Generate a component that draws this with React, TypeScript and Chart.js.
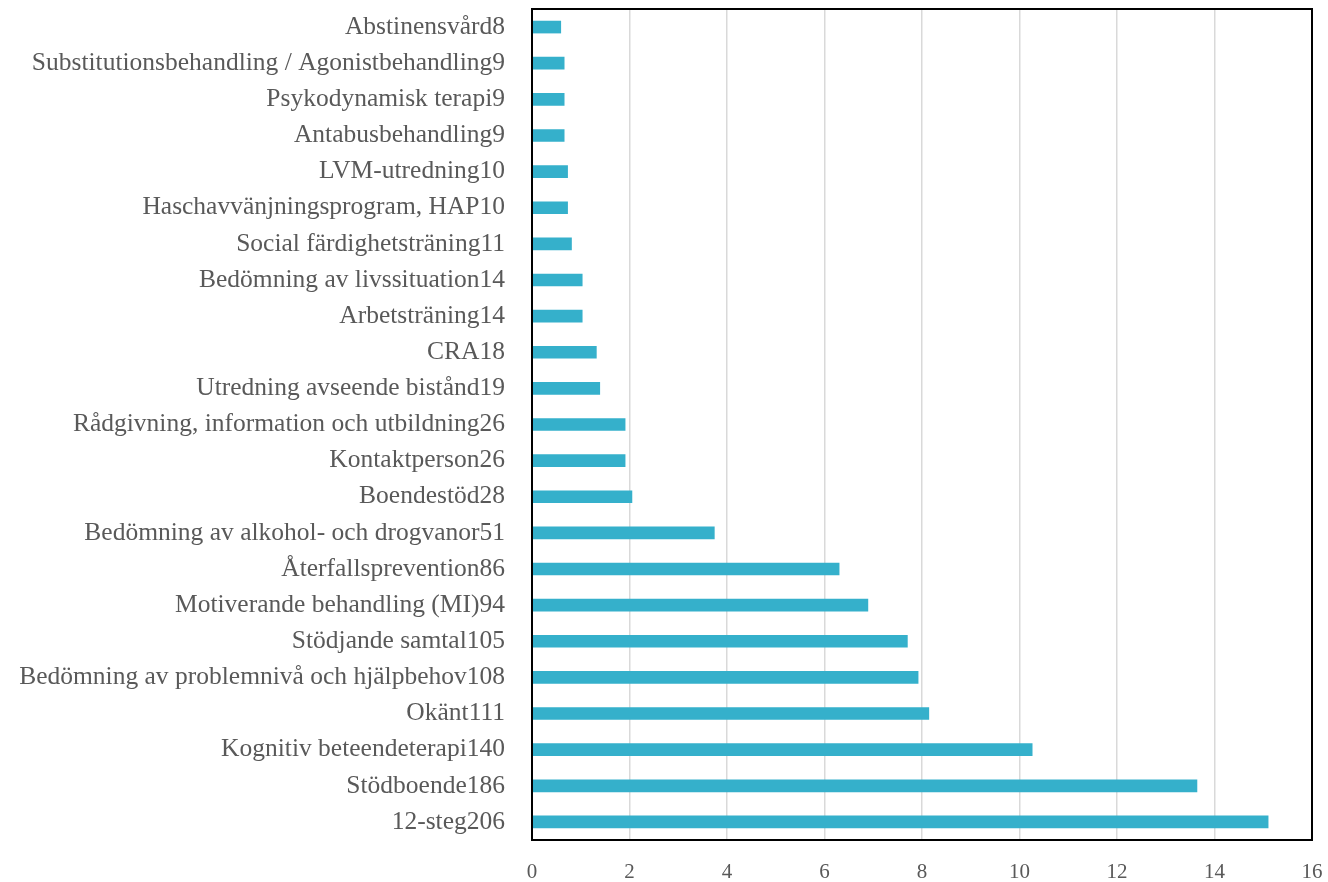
import React, { useEffect, useRef } from "react";
import { Chart, registerables } from "chart.js";

Chart.register(...registerables);

// Treatment categories (name + number of responses), top to bottom in the plot
const categories = [
  "Abstinensvård8",
  "Substitutionsbehandling / Agonistbehandling9",
  "Psykodynamisk terapi9",
  "Antabusbehandling9",
  "LVM-utredning10",
  "Haschavvänjningsprogram, HAP10",
  "Social färdighetsträning11",
  "Bedömning av livssituation14",
  "Arbetsträning14",
  "CRA18",
  "Utredning avseende bistånd19",
  "Rådgivning, information och utbildning26",
  "Kontaktperson26",
  "Boendestöd28",
  "Bedömning av alkohol- och drogvanor51",
  "Återfallsprevention86",
  "Motiverande behandling (MI)94",
  "Stödjande samtal105",
  "Bedömning av problemnivå och hjälpbehov108",
  "Okänt111",
  "Kognitiv beteendeterapi140",
  "Stödboende186",
  "12-steg206",
];

// Share of responses (%)
const shares = [
  0.59, 0.66, 0.66, 0.66, 0.73, 0.73, 0.81, 1.03, 1.03, 1.32, 1.39, 1.91, 1.91,
  2.05, 3.74, 6.3, 6.89, 7.7, 7.92, 8.14, 10.26, 13.64, 15.1,
];

const xTicks = [0, 2, 4, 6, 8, 10, 12, 14, 16];

const FONT = "'Liberation Serif', 'DejaVu Serif', serif";

// Black frame around the plotting area
const frame = {
  id: "frame",
  afterDraw(chart: Chart) {
    const { ctx, chartArea } = chart;
    ctx.save();
    ctx.strokeStyle = "#000000";
    ctx.lineWidth = 2;
    ctx.strokeRect(
      chartArea.left,
      chartArea.top,
      chartArea.right - chartArea.left,
      chartArea.bottom - chartArea.top
    );
    ctx.restore();
  },
};

export default function App() {
  const ref = useRef<HTMLCanvasElement | null>(null);

  useEffect(() => {
    document.body.style.margin = "0";
    if (!ref.current) return;
    const chart = new Chart(ref.current, {
      type: "bar",
      data: {
        labels: categories,
        datasets: [
          {
            data: shares,
            backgroundColor: "#35B0CB",
            barThickness: 12,
          },
        ],
      },
      options: {
        indexAxis: "y",
        responsive: false,
        animation: false,
        layout: { padding: { top: 9, right: 16, left: 0, bottom: 0 } },
        plugins: {
          legend: { display: false },
          tooltip: { enabled: false },
        },
        scales: {
          x: {
            min: 0,
            max: 16,
            afterBuildTicks(scale: any) {
              scale.ticks = xTicks.map((v) => ({ value: v }));
            },
            afterFit(scale: any) {
              scale.height = 42;
              scale.paddingLeft = 0;
              scale.paddingRight = 0;
            },
            grid: {
              color: "#D9D9D9",
              lineWidth: 1.5,
              drawTicks: false,
            },
            border: { display: false },
            ticks: {
              color: "#595959",
              padding: 20,
              font: { family: FONT, size: 21 },
            },
          },
          y: {
            afterFit(scale: any) {
              scale.width = 532;
              scale.paddingTop = 0;
              scale.paddingBottom = 0;
            },
            grid: { display: false },
            border: { display: false },
            ticks: {
              color: "#595959",
              padding: 19,
              font: { family: FONT, size: 25.5 },
            },
          },
        },
      },
      plugins: [frame],
    });
    return () => chart.destroy();
  }, []);

  return (
    <div style={{ width: 1328, height: 882 }}>
      <canvas ref={ref} width={1328} height={882} />
    </div>
  );
}
